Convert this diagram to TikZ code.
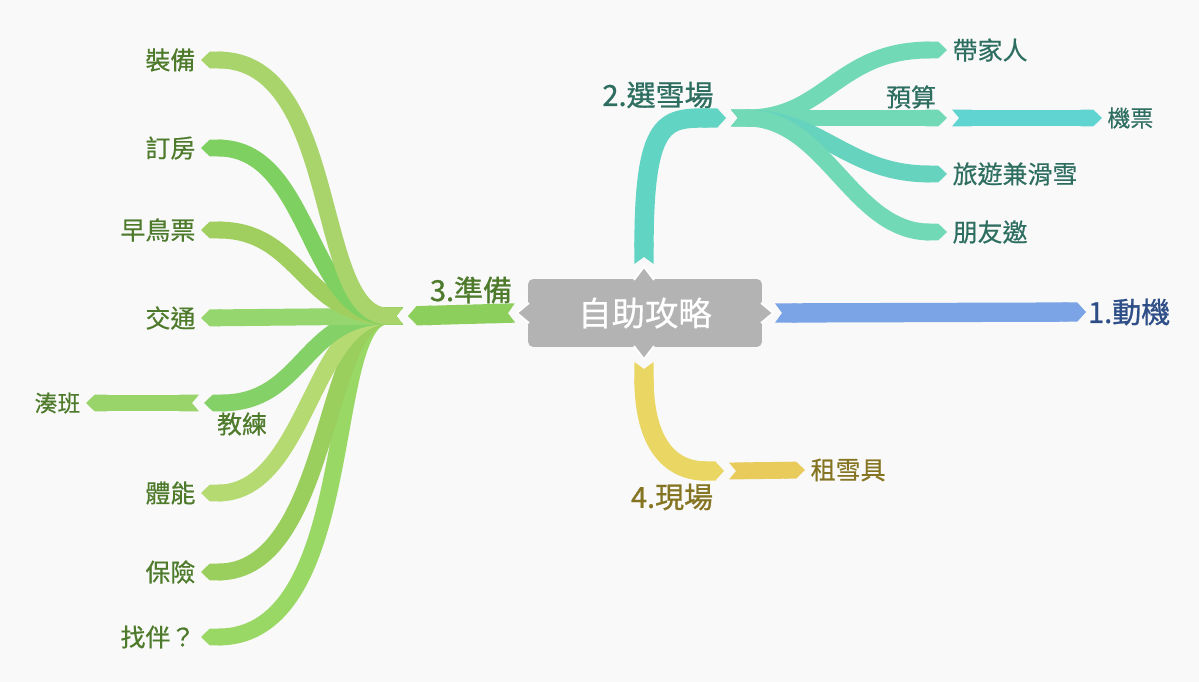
\documentclass[tikz,border=0pt]{standalone}
\usepackage{fontspec}
\newfontfamily\hei[FakeBold=0.5]{Noto Sans CJK TC}
\newfontfamily\heitop[FakeBold=0.9]{Noto Sans CJK TC}
\usetikzlibrary{arrows.meta}
\definecolor{paper}{HTML}{F9F9F9}
\definecolor{rootc}{HTML}{B3B3B3}
\definecolor{blueline}{HTML}{7BA4E6}
\definecolor{bluetext}{HTML}{2E4E87}
\definecolor{tealline}{HTML}{62D4C4}
\definecolor{mint}{HTML}{72D9B6}
\definecolor{mintdeep}{HTML}{66D3BE}
\definecolor{skyteal}{HTML}{5FD4D0}
\definecolor{tealtext}{HTML}{2E6E60}
\definecolor{greenline}{HTML}{8DCF5C}
\definecolor{greentext}{HTML}{4D7A2B}
\definecolor{yellowline}{HTML}{EAD662}
\definecolor{yellowkid}{HTML}{E8CB5B}
\definecolor{yellowtext}{HTML}{857522}
\definecolor{gzb}{HTML}{A9D46B}
\definecolor{gdf}{HTML}{7ED060}
\definecolor{gzn}{HTML}{A0CF5F}
\definecolor{gjt}{HTML}{95D76E}
\definecolor{gjl}{HTML}{84D168}
\definecolor{gcb}{HTML}{98D46A}
\definecolor{gtn}{HTML}{B6DA72}
\definecolor{gbx}{HTML}{9ACF5E}
\definecolor{gzh}{HTML}{99D865}

\begin{document}
\begin{tikzpicture}[x=0.02cm,y=-0.02cm,
  trunk/.style={line width=11pt,{Triangle Cap[reversed,length=4pt]}-{Triangle Cap[length=5pt]}},
  twig/.style={line width=9.6pt,{Triangle Cap[reversed,length=4pt]}-{Triangle Cap[length=5pt]}},
  root/.style={rectangle,rounded corners=3pt,fill=rootc,minimum width=4.68cm,minimum height=1.36cm,
    text=white,font=\hei\fontsize{19pt}{22pt}\selectfont},
  topic/.style={font=\heitop\fontsize{16.5pt}{19pt}\selectfont,inner sep=1pt},
  leaf/.style={font=\hei\fontsize{14.2pt}{17pt}\selectfont,inner sep=3pt},
  twigleaf/.style={font=\hei\fontsize{13pt}{15pt}\selectfont,inner sep=3pt}]

\useasboundingbox (0,0) rectangle (1199,682);
\fill[paper] (0,0) rectangle (1199,682);

% main topics
  \node[topic,text=bluetext,anchor=west] (dongji) at (1086,312) {1.動機};
  \node[topic,text=tealtext] (xuanchang) at (658,95) {2.選雪場};
  \node[topic,text=greentext] (zhunbei) at (471,290) {3.準備};
  \node[topic,text=yellowtext] (xianchang) at (672,497) {4.現場};

% junction points
  \coordinate (s1) at (775,313);
  \coordinate (s2) at (644,264);
  \coordinate (s3) at (515,313);
  \coordinate (s4) at (644,362);
  \coordinate (e2) at (726,118);
  \coordinate (j2) at (731,118);
  \coordinate (e3) at (408,316);
  \coordinate (j3) at (403,316);
  \coordinate (e4) at (724,471);
  \coordinate (j4) at (729,471);

% right hand leaves
  \node[leaf,text=tealtext,anchor=west] (daijiaren) at (947,50) {帶家人};
  \node[leaf,text=tealtext] (yusuan) at (911,97) {預算};
  \coordinate (ys) at (947,118);
  \coordinate (ysj) at (952,118);
  \node[twigleaf,text=tealtext,anchor=west] (jipiao) at (1102,118) {機票};
  \node[leaf,text=tealtext,anchor=west] (lvyou) at (947,174) {旅遊兼滑雪};
  \node[leaf,text=tealtext,anchor=west] (pengyou) at (947,232) {朋友邀};
  \node[leaf,text=yellowtext,anchor=west] (zuxueju) at (805,470) {租雪具};

% left hand leaves
  \node[leaf,text=greentext,anchor=east] (zhuangbei) at (201,60) {裝備};
  \node[leaf,text=greentext,anchor=east] (dingfang) at (201,148) {訂房};
  \node[leaf,text=greentext,anchor=east] (zaoniao) at (201,230) {早鳥票};
  \node[leaf,text=greentext,anchor=east] (jiaotong) at (201,318) {交通};
  \node[leaf,text=greentext] (jiaolian) at (242,424) {教練};
  \coordinate (jl) at (204,403);
  \coordinate (jlj) at (199,403);
  \node[twigleaf,text=greentext,anchor=east] (couban) at (86,403) {湊班};
  \node[leaf,text=greentext,anchor=east] (tineng) at (201,493) {體能};
  \node[leaf,text=greentext,anchor=east] (baoxian) at (201,572) {保險};
  \node[leaf,text=greentext,anchor=east] (zhaoban) at (201,637) {找伴？};

% main branches
  \path
    (s1) edge[trunk,draw=blueline] (dongji.west)
    (s2) edge[trunk,draw=tealline,controls={+(0,-146) and +(-60,0)}] (e2)
    (s3) edge[trunk,draw=greenline] (e3)
    (s4) edge[trunk,draw=yellowline,controls={+(0,80) and +(-55,0)}] (e4);

% ski resort branches
  \path
    (j2) edge[twig,draw=mint,controls={+(95,0) and +(-110,0)}] (daijiaren.west)
    (j2) edge[twig,draw=mint] (ys)
    (ysj) edge[twig,draw=skyteal] (jipiao.west)
    (j2) edge[twig,draw=mintdeep,controls={+(90,0) and +(-100,0)}] (lvyou.west)
    (j2) edge[twig,draw=mint,controls={+(95,0) and +(-95,0)}] (pengyou.west)
    (j4) edge[twig,draw=yellowkid] (zuxueju.west);

% preparation branches
  \path
    (j3) edge[twig,draw=gzh,controls={+(-80,0) and +(160,0)}] (zhaoban.east)
    (j3) edge[twig,draw=gbx,controls={+(-80,0) and +(130,0)}] (baoxian.east)
    (j3) edge[twig,draw=gtn,controls={+(-90,0) and +(105,0)}] (tineng.east)
    (j3) edge[twig,draw=gjl,controls={+(-100,0) and +(100,0)}] (jl)
    (jlj) edge[twig,draw=gcb] (couban.east)
    (j3) edge[twig,draw=gjt] (jiaotong.east)
    (j3) edge[twig,draw=gzn,controls={+(-100,0) and +(100,0)}] (zaoniao.east)
    (j3) edge[twig,draw=gdf,controls={+(-95,0) and +(110,0)}] (dingfang.east)
    (j3) edge[twig,draw=gzb,controls={+(-90,0) and +(140,0)}] (zhuangbei.east);

% centre
  \node[root] (root) at (645,313) {自助攻略};
  \path[fill=rootc,draw=white,line width=1pt] (529,303) -- (517,313) -- (529,323);
  \path[fill=rootc,draw=white,line width=1pt] (761,303) -- (773,313) -- (761,323);
  \path[fill=rootc,draw=white,line width=1pt] (634,280) -- (644,267) -- (654,280);
  \path[fill=rootc,draw=white,line width=1pt] (634,346) -- (644,359) -- (654,346);

\end{tikzpicture}
\end{document}
